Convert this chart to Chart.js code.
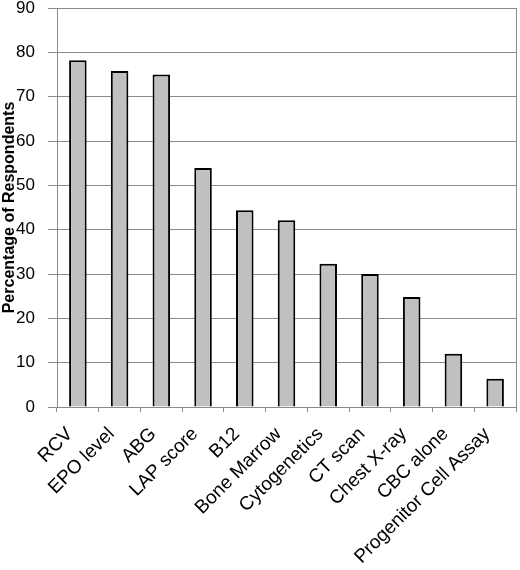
<!DOCTYPE html>
<html>
<head>
<meta charset="utf-8">
<script src="https://cdn.jsdelivr.net/npm/chart.js@4"></script>
<style>
  html, body { margin: 0; padding: 0; background: #fff; }
  #wrap { width: 520px; height: 570px; }
</style>
</head>
<body>
<div id="wrap"><canvas id="myChart" width="520" height="570"></canvas></div>
<script>
var categories = ["RCV", "EPO level", "ABG", "LAP score", "B12", "Bone Marrow",
  "Cytogenetics", "CT scan", "Chest X-ray", "CBC alone", "Progenitor Cell Assay"];
var percentages = [78.2, 75.8, 75.0, 53.9, 44.4, 42.1, 32.3, 30.0, 24.8, 12.0, 6.4];
var yMax = 90;
var yStep = 10;

// right-hand frame line of the plot area
var frameRight = {
  id: "frameRight",
  afterDraw: function (chart) {
    var a = chart.chartArea, c = chart.ctx;
    c.save();
    c.strokeStyle = "#8a8a8a";
    c.lineWidth = 1;
    c.beginPath();
    c.moveTo(a.right + 0.5, a.top);
    c.lineTo(a.right + 0.5, a.bottom);
    c.stroke();
    c.restore();
  },
};

var ctx = document.getElementById("myChart").getContext("2d");
var chart = new Chart(ctx, {
  type: "bar",
  data: {
    labels: categories,
    datasets: [
      {
        label: "Respondents",
        data: percentages,
        backgroundColor: "#c0c0c0",
        borderColor: "#000",
        borderWidth: 2,
        barPercentage: 0.42,
        categoryPercentage: 1,
      },
    ],
  },
  plugins: [frameRight],
  options: {
    responsive: false,
    animation: false,
    layout: { padding: { top: 0, right: 4, bottom: 0, left: 0 } },
    plugins: {
      legend: { display: false },
      tooltip: { enabled: false },
    },
    scales: {
      x: {
        ticks: {
          color: "#000",
          font: { family: "Liberation Sans, Arial", size: 19 },
          minRotation: 45,
          maxRotation: 45,
          padding: 11,
          labelOffset: -8,
          autoSkip: false,
        },
        grid: {
          display: true,
          drawOnChartArea: false,
          tickLength: 5,
          color: "#8a8a8a",
        },
        border: { color: "#8a8a8a" },
        afterFit: function (scale) {
          scale.height = 163;
          scale.paddingLeft = 0;
          scale.paddingRight = 0;
        },
      },
      y: {
        min: 0,
        max: yMax,
        ticks: {
          stepSize: yStep,
          color: "#000",
          font: { family: "Liberation Sans, Arial", size: 17 },
          padding: 13,
        },
        grid: {
          color: "#8a8a8a",
          tickLength: 9,
        },
        border: { color: "#8a8a8a" },
        title: {
          display: true,
          text: "Percentage of Respondents",
          color: "#000",
          font: { family: "Liberation Sans, Arial", size: 16, weight: "bold" },
          padding: 0,
        },
        afterFit: function (scale) {
          scale.width = 57;
          scale.paddingTop = 8;
        },
      },
    },
  },
});
</script>
</body>
</html>
